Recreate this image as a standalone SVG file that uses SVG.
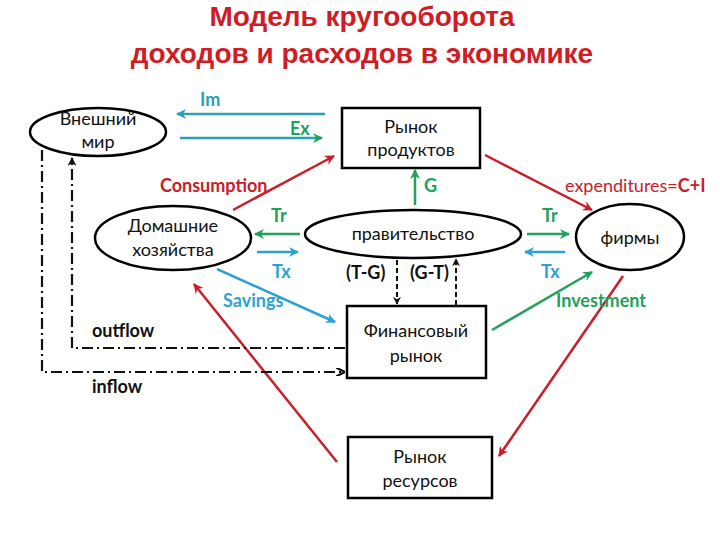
<svg xmlns="http://www.w3.org/2000/svg" width="720" height="540" viewBox="0 0 720 540">
<style>
.title{font-family:"Liberation Sans",Arial,sans-serif;font-weight:bold;font-size:28px;fill:#d01c24;text-anchor:middle}
.node{fill:#fff;stroke:#000;stroke-width:2.5}
.t{font-family:Lato,"Liberation Sans",sans-serif;font-size:18px;fill:#111;text-anchor:middle}
.lb{font-family:Lato,"Liberation Sans",sans-serif;font-size:18px;font-weight:bold}
.red{stroke:#c8202a;stroke-width:2.5;fill:none}
.green{stroke:#22a05c;stroke-width:2.5;fill:none}
.blue{stroke:#2ba2d2;stroke-width:2.5;fill:none}
.teal{stroke:#2aa0b0;stroke-width:2.5;fill:none}
.dd{stroke:#111;stroke-width:2.2;fill:none;stroke-dasharray:11 4 2 4}
.dash{stroke:#111;stroke-width:2;fill:none;stroke-dasharray:5 3}
</style>
<defs>
<marker id="ar" viewBox="0 0 10 10" refX="9" refY="5" markerWidth="4" markerHeight="4" orient="auto"><path d="M0,0L10,5L0,10L3,5z" fill="#c8202a"/></marker>
<marker id="ag" viewBox="0 0 10 10" refX="9" refY="5" markerWidth="4" markerHeight="4" orient="auto"><path d="M0,0L10,5L0,10L3,5z" fill="#22a05c"/></marker>
<marker id="ab" viewBox="0 0 10 10" refX="9" refY="5" markerWidth="4" markerHeight="4" orient="auto"><path d="M0,0L10,5L0,10L3,5z" fill="#2ba2d2"/></marker>
<marker id="at" viewBox="0 0 10 10" refX="9" refY="5" markerWidth="4" markerHeight="4" orient="auto"><path d="M0,0L10,5L0,10L3,5z" fill="#2aa0b0"/></marker>
<marker id="ak" viewBox="0 0 10 10" refX="9" refY="5" markerWidth="4" markerHeight="4" orient="auto"><path d="M0,0L10,5L0,10" fill="none" stroke="#111" stroke-width="2.5"/></marker>
<marker id="akf" viewBox="0 0 10 10" refX="9" refY="5" markerWidth="4" markerHeight="4" orient="auto"><path d="M0,0L10,5L0,10L3,5z" fill="#111"/></marker>
</defs>
<rect width="720" height="540" fill="#fff"/>
<text class="title" x="362" y="26">Модель кругооборота</text>
<text class="title" x="362" y="63">доходов и расходов в экономике</text>

<g id="connectors">
<line class="teal" x1="325" y1="114" x2="177" y2="114" marker-end="url(#at)"/>
<line class="teal" x1="180" y1="138" x2="322" y2="138" marker-end="url(#ag)"/>
<line class="red" x1="233" y1="210" x2="334" y2="156" marker-end="url(#ar)"/>
<line class="green" x1="415" y1="205" x2="415" y2="170" marker-end="url(#ag)"/>
<line class="red" x1="485" y1="155" x2="592" y2="210" marker-end="url(#ar)"/>
<line class="green" x1="300" y1="234" x2="255" y2="234" marker-end="url(#ag)"/>
<line class="blue" x1="257" y1="252" x2="298" y2="252" marker-end="url(#ab)"/>
<line class="green" x1="527" y1="234" x2="569" y2="234" marker-end="url(#ag)"/>
<line class="blue" x1="565" y1="252" x2="525" y2="252" marker-end="url(#ab)"/>
<line class="blue" x1="217" y1="269" x2="335" y2="322" marker-end="url(#ab)"/>
<line class="dash" x1="397" y1="260" x2="397" y2="304" marker-end="url(#akf)"/>
<line class="dash" x1="456" y1="305" x2="456" y2="259" marker-end="url(#akf)"/>
<line class="green" x1="492" y1="330" x2="592" y2="272" marker-end="url(#ag)"/>
<line class="red" x1="623" y1="276" x2="499" y2="456" marker-end="url(#ar)"/>
<line class="red" x1="337" y1="462" x2="194" y2="284" marker-end="url(#ar)"/>
<polyline class="dd" points="42,150 42,372 344,372" marker-end="url(#ak)"/>
<polyline class="dd" points="345,348 72,348 72,158" marker-end="url(#akf)"/>
</g>

<g id="labels">
<text class="lb" x="200" y="106" fill="#2aa0b0">Im</text>
<text class="lb" x="290" y="135" fill="#22a05c">Ex</text>
<text class="lb" x="160" y="192" fill="#c8202a">Consumption</text>
<text class="lb" x="424" y="192" fill="#22a05c">G</text>
<text x="565" y="192" font-family="Lato,'Liberation Sans',sans-serif" font-size="18" fill="#c8202a">expenditures=<tspan font-weight="bold">C+I</tspan></text>
<text class="lb" x="271" y="222" fill="#22a05c">Tr</text>
<text class="lb" x="272" y="278" fill="#2ba2d2">Tx</text>
<text class="lb" x="542" y="222" fill="#22a05c">Tr</text>
<text class="lb" x="541" y="278" fill="#2ba2d2">Tx</text>
<text class="lb" x="223" y="307" fill="#2ba2d2">Savings</text>
<text class="lb" x="346" y="279" fill="#111">(T-G)</text>
<text class="lb" x="410" y="279" fill="#111">(G-T)</text>
<text class="lb" x="556" y="307" fill="#22a05c">Investment</text>
<text class="lb" x="92" y="337" fill="#111">outflow</text>
<text class="lb" x="92" y="393" fill="#111">inflow</text>
</g>

<g id="vneshniy-mir">
<ellipse class="node" cx="98" cy="132" rx="68" ry="24"/>
<text class="t" x="98" y="125">Внешний</text>
<text class="t" x="98" y="148">мир</text>
</g>
<g id="rynok-produktov">
<rect class="node" x="342" y="108" width="138" height="60"/>
<text class="t" x="411" y="133">Рынок</text>
<text class="t" x="411" y="156">продуктов</text>
</g>
<g id="domashnie">
<ellipse class="node" cx="173" cy="238" rx="78" ry="32"/>
<text class="t" x="173" y="232">Домашние</text>
<text class="t" x="173" y="256">хозяйства</text>
</g>
<g id="pravitelstvo">
<ellipse class="node" cx="413" cy="234" rx="108" ry="24"/>
<text class="t" x="413" y="240">правительство</text>
</g>
<g id="firmy">
<ellipse class="node" cx="630" cy="237" rx="54" ry="33"/>
<text class="t" x="630" y="244">фирмы</text>
</g>
<g id="finansovy-rynok">
<rect class="node" x="347" y="306" width="139" height="72"/>
<text class="t" x="416" y="337">Финансовый</text>
<text class="t" x="416" y="362">рынок</text>
</g>
<g id="rynok-resursov">
<rect class="node" x="348" y="437" width="144" height="61"/>
<text class="t" x="420" y="463">Рынок</text>
<text class="t" x="420" y="487">ресурсов</text>
</g>
</svg>
